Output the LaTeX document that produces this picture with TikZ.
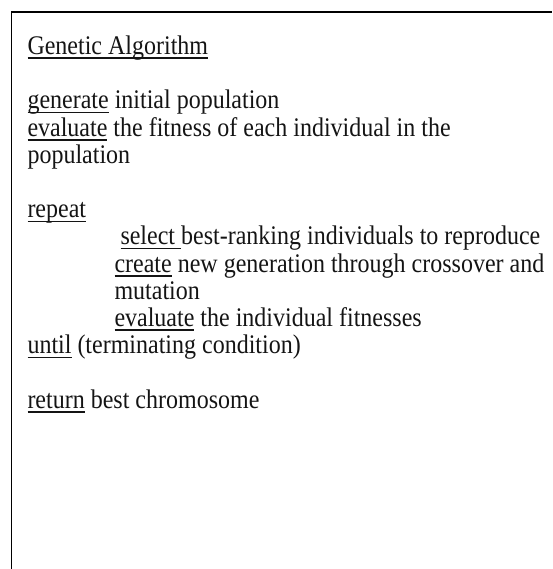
\documentclass[tikz,border=0pt]{standalone}
\usepackage{fontspec}
\setmainfont{Liberation Serif}
\newsavebox\ulbox
\newcommand\ulw[1]{\sbox\ulbox{#1}\rlap{\rule[-4.0pt]{\wd\ulbox}{1.35pt}}\usebox\ulbox}
\newcommand\tallline[1]{\scalebox{1}[1.12]{#1}}
\tikzset{
  txt/.style={anchor=base west, inner sep=0pt, outer sep=0pt,
    font=\fontsize{24}{27.2}\selectfont, text=black!92},
  frame/.style={draw=black, line width=1.8pt, line join=miter}
}
\begin{document}
\begin{tikzpicture}[x=1pt,y=-1pt]
\useasboundingbox (0,0) rectangle (552,569);
\coordinate (fb) at (11.5,569);
\coordinate (fc) at (11.5,12);
\coordinate (fr) at (552,12);
\draw[frame] (fb) -- (fc) -- (fr);
\node[txt] (title) at (27.5,54.5) {\tallline{\ulw{Genetic Algorithm}}};
\node[txt] (gen) at (27.5,108.9) {\tallline{\ulw{generate} initial population}};
\node[txt] (eval) at (27.5,136.1) {\tallline{\ulw{evaluate} the fitness of each individual in the}};
\node[txt] (pop) at (27.5,163.3) {\tallline{population}};
\node[txt] (rep) at (27.5,217.7) {\tallline{\ulw{repeat}}};
\node[txt] (sel) at (114.5,244.9) {\tallline{\ \ulw{select }best-ranking individuals to reproduce}};
\node[txt] (cre) at (114.5,272.1) {\tallline{\ulw{create} new generation through crossover and}};
\node[txt] (mut) at (114.5,299.3) {\tallline{mutation}};
\node[txt] (ev2) at (114.5,326.5) {\tallline{\ulw{evaluate} the individual fitnesses}};
\node[txt] (unt) at (27.5,353.7) {\tallline{\ulw{until} (terminating condition)}};
\node[txt] (ret) at (27.5,408.1) {\tallline{\ulw{return} best chromosome}};
\end{tikzpicture}
\end{document}
